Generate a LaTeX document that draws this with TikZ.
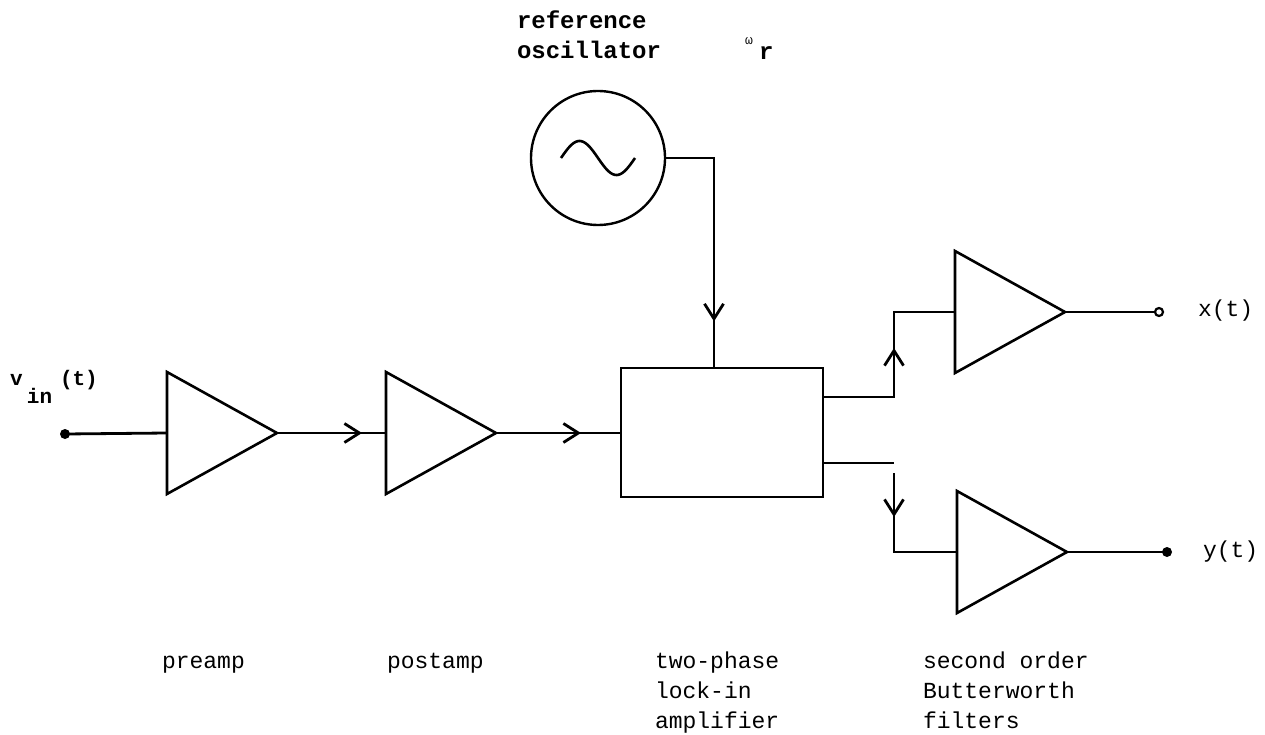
\documentclass[tikz,border=0pt]{standalone}
\usepackage{fontspec}
\setmonofont{Liberation Mono}
\usetikzlibrary{arrows.meta,decorations.markings,calc}
\newcommand{\amptri}[3]{%
  \draw[tri] (#2,#3-61) -- (#2+110,#3) -- (#2,#3+61) -- cycle;
  \coordinate (#1-in) at (#2,#3);
  \coordinate (#1-out) at (#2+110,#3);
}
\begin{document}
\begin{tikzpicture}[x=1pt,y=-1pt,
  wire/.style={line width=2.8pt, line join=miter},
  tri/.style={line width=2.6pt, line join=miter},
  lbl/.style={font=\ttfamily\fontsize{23}{30}\selectfont, inner sep=0pt, outer sep=0pt, anchor=base west, align=left},
  blbl/.style={lbl, font=\ttfamily\bfseries\fontsize{24}{30}\selectfont},
  midarrow/.style={postaction={decorate}, decoration={markings, mark=at position #1 with {\arrow{Straight Barb[length=15pt,width=19pt]}}}}]
\useasboundingbox (0,0) rectangle (1265,735);

% amplifiers / filters
\amptri{pre}{167}{433}
\amptri{post}{386}{433}
\amptri{fx}{955}{312}
\amptri{fy}{957}{552}

% oscillator
\node[draw, line width=2.4pt, circle, minimum size=134pt, inner sep=0pt, outer sep=0pt] (osc) at (598,158) {};
\draw[line width=2.6pt] plot[domain=0:360, samples=60, smooth] ({561+\x/360*74},{158-17*sin(\x)});

% lock-in box
\node[draw, line width=2.8pt, minimum width=202pt, minimum height=129pt, inner sep=0pt, outer sep=0pt] (lock) at (722,432.5) {};

% coordinates
\coordinate (vin) at (65,434);
\coordinate (oscj) at (714,158);
\coordinate (lockt) at (714,368);
\coordinate (xo) at (823,397);
\coordinate (xj) at (894,397);
\coordinate (xk) at (894,312);
\coordinate (yo) at (823,463);
\coordinate (yj) at (894,463);
\coordinate (yk) at (894,473);
\coordinate (yl) at (894,552);
\coordinate (xend) at (1159,312);
\coordinate (yend) at (1167,552);

% connectors
\draw[wire] (vin) -- (pre-in);
\fill (vin) circle (5);
\draw[wire, midarrow=0.78] (pre-out) -- (post-in);
\draw[wire, midarrow=0.68] (post-out) -- (post-out -| lock.west);
\draw[wire, midarrow=0.82] (osc.east) -- (oscj) -- (lockt);
\draw[wire, midarrow=0.553] (xo) -- (xj) -- (xk) -- (fx-in);
\draw[wire] (yo) -- (yj);
\draw[wire, midarrow=0.31] (yk) -- (yl) -- (fy-in);
\draw[wire] (fx-out) -- (xend);
\draw[line width=2.2pt, fill=white] (xend) circle (4);
\draw[wire] (fy-out) -- (yend);
\fill (yend) circle (5);

% labels
\node[blbl] (reflbl) at (517,59) {reference\\oscillator};
\node[lbl, font=\ttfamily\fontsize{13}{13}\selectfont] (om) at (745,45) {ω};
\node[blbl] (omr) at (759,60) {r};
\node[blbl, font=\ttfamily\bfseries\fontsize{21}{21}\selectfont] (vv) at (10,385) {v};
\node[blbl, font=\ttfamily\bfseries\fontsize{21}{21}\selectfont] (vsub) at (27,403) {in};
\node[blbl, font=\ttfamily\bfseries\fontsize{21}{21}\selectfont] (vt) at (60,385) {(t)};
\node[lbl] (xlbl) at (1198,316) {x(t)};
\node[lbl] (ylbl) at (1203,557) {y(t)};
\node[lbl] (prel) at (162,668) {preamp};
\node[lbl] (postl) at (387,668) {postamp};
\node[lbl] (lockl) at (655,728) {two-phase\\lock-in\\amplifier};
\node[lbl] (filtl) at (923,728) {second order\\Butterworth\\filters};
\end{tikzpicture}
\end{document}
